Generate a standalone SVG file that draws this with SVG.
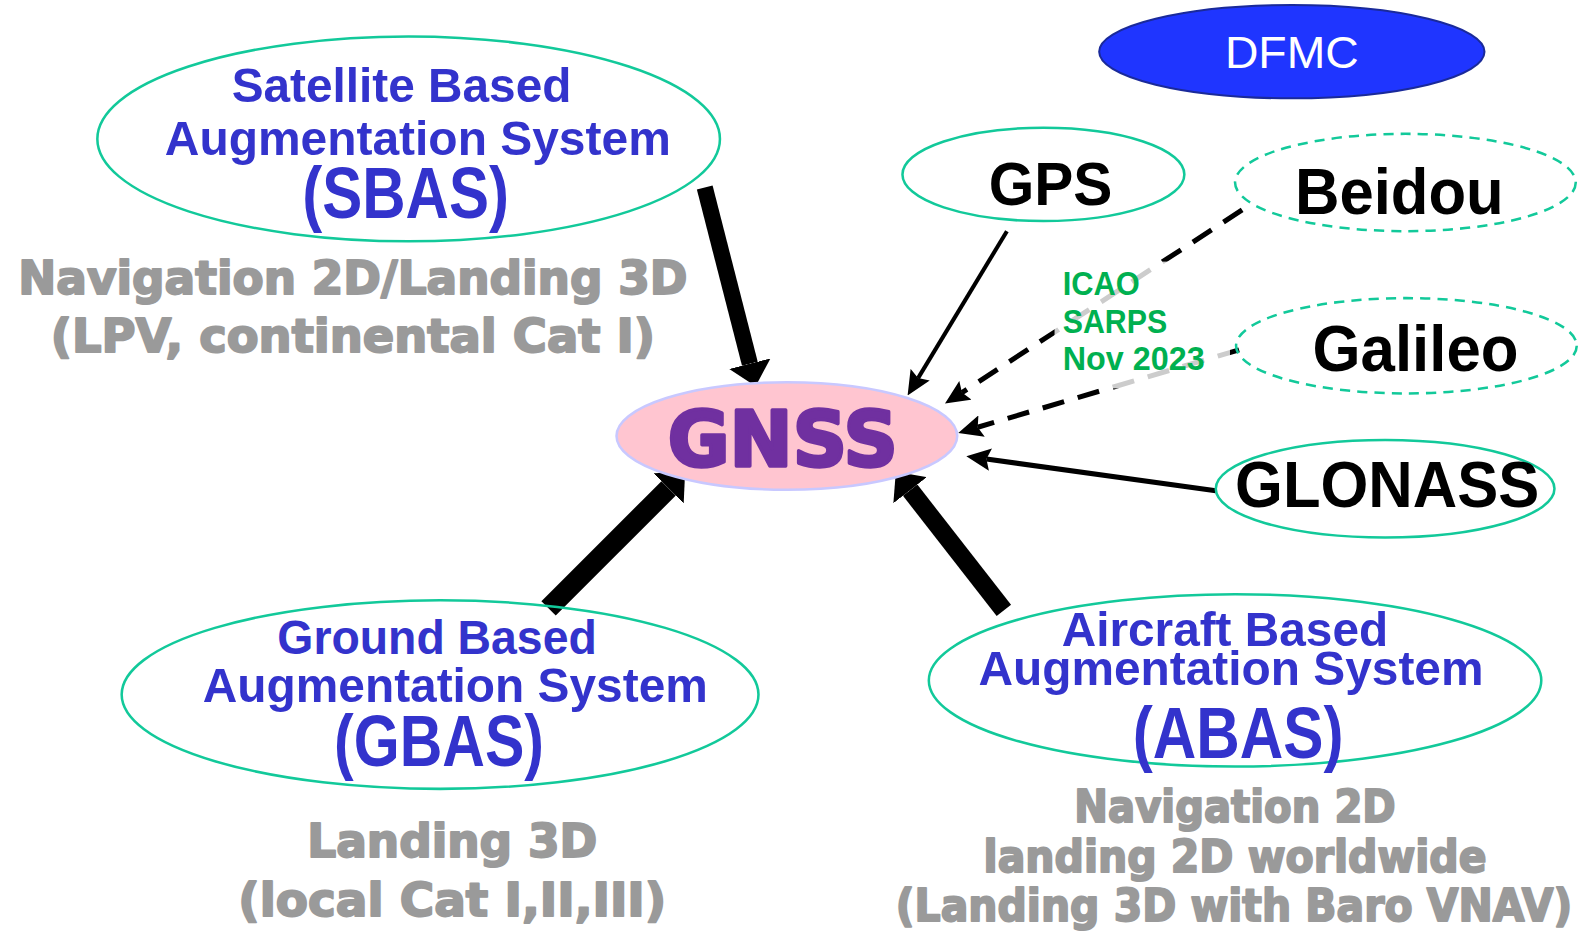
<svg xmlns="http://www.w3.org/2000/svg" width="1590" height="932" viewBox="0 0 1590 932">
<defs>
<style>
.ell{fill:none;stroke:#12c99a;stroke-width:2.5}
.dash{stroke-dasharray:10 7}
.blue{font-family:"Liberation Sans",Arial,sans-serif;font-weight:bold;fill:#3333cc;text-anchor:middle}
.gray{font-family:"DejaVu Sans","Liberation Sans",Arial,sans-serif;font-weight:bold;fill:#9a9a9a;stroke:#9a9a9a;stroke-width:2;stroke-linejoin:round;text-anchor:middle}
.blk{font-family:"Liberation Sans",Arial,sans-serif;font-weight:bold;fill:#000;text-anchor:middle}
.green{font-family:"Liberation Sans",Arial,sans-serif;font-weight:bold;fill:#00b050;font-size:32px}
.thick{stroke:#000;fill:none;marker-end:url(#big)}
.thin{stroke:#000;stroke-width:4;fill:none;marker-end:url(#small)}
.dl{stroke:#000;stroke-width:5;fill:none;stroke-dasharray:22 14;marker-end:url(#small)}
</style>
<marker id="big" markerUnits="userSpaceOnUse" markerWidth="23" markerHeight="42" viewBox="0 0 23 42" refX="0" refY="21" orient="auto"><path d="M0,0 L23,21 L0,42 z" fill="#000"/></marker>
<marker id="small" markerUnits="userSpaceOnUse" markerWidth="24" markerHeight="22" viewBox="0 0 24 22" refX="4" refY="11" orient="auto"><path d="M0,0 L24,11 L0,22 L4,11 z" fill="#000"/></marker>
</defs>
<rect width="1590" height="932" fill="#fff"/>
<g transform="scale(1.014)">

<g id="connectors">
<line class="thick" x1="695" y1="185" x2="739.5" y2="358.7" style="stroke-width:16"/>
<line class="thick" x1="541" y1="600" x2="659.4" y2="481.6" style="stroke-width:20"/>
<line class="thick" x1="990" y1="602" x2="897.6" y2="483.4" style="stroke-width:18"/>
<line class="thin" x1="993" y1="228" x2="905.4" y2="372.9"/>
<line class="dl" x1="1225" y1="207" x2="948.7" y2="387.1"/>
<line class="dl" x1="1222" y1="345" x2="964.2" y2="421.3"/>
<line class="thin" x1="1199" y1="484" x2="972.8" y2="452.7" style="stroke-width:5"/>
</g>

<g id="dfmc">
<ellipse cx="1274" cy="51" rx="190" ry="46" fill="#1f35ff" stroke="#1a2a9a" stroke-width="2"/>
<text x="1274" y="67" font-family="Liberation Sans,Arial,sans-serif" font-size="44" fill="#fff" text-anchor="middle" textLength="132" lengthAdjust="spacingAndGlyphs">DFMC</text>
</g>

<g id="sbas">
<ellipse class="ell" cx="403" cy="137" rx="307" ry="101"/>
<text class="blue" x="396" y="101" font-size="48" textLength="335" lengthAdjust="spacingAndGlyphs">Satellite Based</text>
<text class="blue" x="412" y="153" font-size="48" textLength="499" lengthAdjust="spacingAndGlyphs">Augmentation System</text>
<text class="blue" x="400" y="215" font-size="72" textLength="204" lengthAdjust="spacingAndGlyphs">(SBAS)</text>
</g>
<g id="sbas-note">
<text class="gray" x="348" y="290" font-size="46" textLength="660" lengthAdjust="spacingAndGlyphs">Navigation 2D/Landing 3D</text>
<text class="gray" x="348" y="347" font-size="46" textLength="596" lengthAdjust="spacingAndGlyphs">(LPV, continental Cat I)</text>
</g>

<g id="gps">
<ellipse class="ell" cx="1029" cy="172" rx="139" ry="46"/>
<text class="blk" x="1036" y="202" font-size="60" textLength="122" lengthAdjust="spacingAndGlyphs">GPS</text>
</g>

<g id="beidou">
<ellipse class="ell dash" cx="1386" cy="180" rx="168" ry="48"/>
<text class="blk" x="1380" y="211" font-size="63" textLength="206" lengthAdjust="spacingAndGlyphs">Beidou</text>
</g>

<g id="galileo">
<ellipse class="ell dash" cx="1387" cy="341" rx="168" ry="47"/>
<text class="blk" x="1396" y="366" font-size="63" textLength="203" lengthAdjust="spacingAndGlyphs">Galileo</text>
</g>

<g id="glonass">
<ellipse class="ell" cx="1366" cy="482" rx="167" ry="48"/>
<text class="blk" x="1368" y="500" font-size="63" textLength="300" lengthAdjust="spacingAndGlyphs">GLONASS</text>
</g>

<g id="icao-note">
<rect x="1040" y="258" width="173" height="125" fill="#fff" fill-opacity="0.8"/>
<text class="green" x="1048" y="291" textLength="76" lengthAdjust="spacingAndGlyphs">ICAO</text>
<text class="green" x="1048" y="328" textLength="103" lengthAdjust="spacingAndGlyphs">SARPS</text>
<text class="green" x="1048" y="365" textLength="140" lengthAdjust="spacingAndGlyphs">Nov 2023</text>
</g>

<g id="gnss">
<ellipse cx="776" cy="430" rx="168" ry="53" fill="#ffc5d0" stroke="#c8c8ff" stroke-width="2.5"/>
<text x="772" y="460" font-family="DejaVu Sans,Liberation Sans,Arial,sans-serif" font-weight="bold" font-size="76" fill="#7030a0" stroke="#7030a0" stroke-width="3.5" stroke-linejoin="round" text-anchor="middle" textLength="227" lengthAdjust="spacingAndGlyphs">GNSS</text>
</g>

<g id="gbas">
<ellipse class="ell" cx="434" cy="685" rx="314" ry="93"/>
<text class="blue" x="431" y="645" font-size="48" textLength="315" lengthAdjust="spacingAndGlyphs">Ground Based</text>
<text class="blue" x="449" y="692" font-size="48" textLength="498" lengthAdjust="spacingAndGlyphs">Augmentation System</text>
<text class="blue" x="433" y="755" font-size="72" textLength="207" lengthAdjust="spacingAndGlyphs">(GBAS)</text>
</g>
<g id="gbas-note">
<text class="gray" x="446" y="845" font-size="46" textLength="286" lengthAdjust="spacingAndGlyphs">Landing 3D</text>
<text class="gray" x="446" y="903" font-size="46" textLength="422" lengthAdjust="spacingAndGlyphs">(local Cat I,II,III)</text>
</g>

<g id="abas">
<ellipse class="ell" cx="1218" cy="671" rx="302" ry="85"/>
<text class="blue" x="1208" y="637" font-size="48" textLength="322" lengthAdjust="spacingAndGlyphs">Aircraft Based</text>
<text class="blue" x="1214" y="676" font-size="48" textLength="498" lengthAdjust="spacingAndGlyphs">Augmentation System</text>
<text class="blue" x="1221" y="748" font-size="72" textLength="208" lengthAdjust="spacingAndGlyphs">(ABAS)</text>
</g>
<g id="abas-note">
<text class="gray" x="1218" y="811" font-size="44" textLength="317" lengthAdjust="spacingAndGlyphs">Navigation 2D</text>
<text class="gray" x="1218" y="860" font-size="44" textLength="496" lengthAdjust="spacingAndGlyphs">landing 2D worldwide</text>
<text class="gray" x="1217" y="908" font-size="44" textLength="667" lengthAdjust="spacingAndGlyphs">(Landing 3D with Baro VNAV)</text>
</g>
</g>
</svg>
